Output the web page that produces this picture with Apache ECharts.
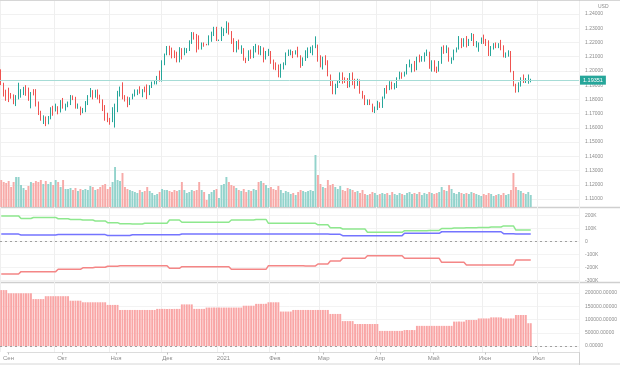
<!DOCTYPE html>
<html><head><meta charset="utf-8">
<script src="https://cdn.jsdelivr.net/npm/echarts@6/dist/echarts.min.js"></script>
<style>html,body{margin:0;padding:0;background:#fff}#c{width:620px;height:365px}</style>
</head><body><div id="c"></div>
<script>
// ---- daily EUR/USD candles (Sep 1 2020 .. Jun 28 2021) ----
const opens = [
1.1937,1.1913,1.1855,1.1850,1.1837,1.1819,1.1780,1.1800,1.1815,1.1845,1.1862,1.1845,1.1815,1.1848,1.1838,1.1770,1.1700,1.1660,1.1670,1.1632,1.1665,1.1745,
1.1720,1.1750,1.1715,1.1780,1.1735,1.1760,1.1765,1.1825,1.1815,1.1745,1.1746,1.1705,1.1717,1.1770,1.1820,1.1862,1.1815,1.1860,1.1813,1.1793,1.1746,1.1674,
1.1647,1.1642,1.1715,1.1720,1.1830,1.1875,1.1814,1.1812,1.1775,1.1808,1.1833,1.1855,1.1860,1.1850,1.1870,1.1858,1.1840,1.1895,1.1915,1.1915,1.1960,
1.1927,1.2070,1.2115,1.2145,1.2121,1.2110,1.2100,1.2080,1.2135,1.2110,1.2145,1.2150,1.2195,1.2265,1.2255,1.2240,1.2160,1.2190,1.2187,1.2185,1.2215,1.2250,1.2295,
1.2215,1.2215,1.2250,1.2295,1.2325,1.2270,1.2220,1.2150,1.2205,1.2155,1.2155,1.2080,1.2075,1.2130,1.2105,1.2165,1.2170,1.2140,1.2160,1.2110,1.2120,
1.2135,1.2060,1.2040,1.2035,1.1965,1.2045,1.2050,1.2120,1.2120,1.2135,1.2120,1.2130,1.2105,1.2040,1.2090,1.2120,1.2150,1.2150,1.2165,1.2175,
1.2075,1.2045,1.2090,1.2065,1.1965,1.1915,1.1845,1.1900,1.1925,1.1985,1.1950,1.1930,1.1900,1.1975,1.1915,1.1905,1.1935,1.1850,1.1815,1.1780,1.1795,1.1765,1.1730,
1.1730,1.1775,1.1760,1.1815,1.1875,1.1870,1.1915,1.1900,1.1910,1.1945,1.1980,1.1965,1.1985,1.2035,1.2035,1.2035,1.2015,1.2095,1.2080,1.2090,1.2125,1.2125,
1.2020,1.2065,1.2015,1.2005,1.2065,1.2165,1.2130,1.2150,1.2075,1.2080,1.2145,1.2155,1.2225,1.2175,1.2225,1.2180,1.2215,1.2250,1.2190,1.2195,1.2195,
1.2225,1.2215,1.2210,1.2125,1.2165,1.2190,1.2175,1.2180,1.2175,1.2105,1.2120,1.2125,1.1995,1.1905,1.1860,1.1915,1.1940,1.1925,1.1930,1.1935];
const highs = [
1.2011,1.1917,1.1868,1.1882,1.1845,1.1835,1.1830,1.1917,1.1872,1.1888,1.1900,1.1883,1.1852,1.1872,1.1872,1.1785,1.1720,1.1688,1.1680,1.1683,1.1745,1.1755,
1.1770,1.1752,1.1795,1.1810,1.1770,1.1785,1.1831,1.1828,1.1818,1.1771,1.1750,1.1740,1.1788,1.1830,1.1880,1.1865,1.1868,1.1870,1.1833,1.1800,1.1760,1.1706,
1.1670,1.1745,1.1770,1.1860,1.1890,1.1920,1.1830,1.1820,1.1815,1.1840,1.1870,1.1870,1.1892,1.1872,1.1890,1.1905,1.1900,1.1925,1.1930,1.1965,1.2002,
1.2075,1.2122,1.2175,1.2177,1.2164,1.2145,1.2135,1.2167,1.2160,1.2163,1.2160,1.2215,1.2273,1.2272,1.2260,1.2250,1.2200,1.2200,1.2190,1.2250,1.2276,1.2310,1.2310,
1.2220,1.2310,1.2300,1.2349,1.2340,1.2280,1.2230,1.2210,1.2220,1.2180,1.2160,1.2093,1.2145,1.2150,1.2175,1.2190,1.2180,1.2175,1.2165,1.2140,1.2155,
1.2140,1.2080,1.2060,1.2045,1.2050,1.2060,1.2130,1.2150,1.2150,1.2140,1.2145,1.2170,1.2110,1.2095,1.2145,1.2165,1.2170,1.2180,1.2243,1.2185,
1.2110,1.2100,1.2110,1.2075,1.1975,1.1930,1.1910,1.1935,1.1990,1.1990,1.1955,1.1950,1.1985,1.1990,1.1945,1.1945,1.1940,1.1860,1.1830,1.1800,1.1800,1.1770,1.1750,
1.1790,1.1780,1.1820,1.1880,1.1900,1.1928,1.1925,1.1915,1.1955,1.1995,1.1990,1.1995,1.2048,1.2080,1.2050,1.2070,1.2100,1.2115,1.2105,1.2130,1.2150,1.2135,
1.2075,1.2075,1.2030,1.2070,1.2170,1.2180,1.2180,1.2165,1.2095,1.2150,1.2165,1.2245,1.2230,1.2230,1.2245,1.2225,1.2266,1.2260,1.2210,1.2200,1.2235,
1.2255,1.2225,1.2215,1.2175,1.2195,1.2200,1.2195,1.2218,1.2180,1.2130,1.2145,1.2140,1.2000,1.1910,1.1920,1.1955,1.1975,1.1950,1.1975,1.1945];
const lows = [
1.1900,1.1820,1.1790,1.1781,1.1805,1.1766,1.1753,1.1800,1.1812,1.1830,1.1825,1.1790,1.1737,1.1828,1.1750,1.1690,1.1650,1.1627,1.1612,1.1625,1.1660,1.1685,
1.1715,1.1695,1.1708,1.1735,1.1721,1.1745,1.1760,1.1795,1.1735,1.1734,1.1689,1.1703,1.1710,1.1760,1.1815,1.1800,1.1812,1.1800,1.1773,1.1718,1.1650,1.1640,
1.1622,1.1640,1.1602,1.1710,1.1820,1.1800,1.1785,1.1745,1.1760,1.1800,1.1820,1.1830,1.1840,1.1815,1.1850,1.1802,1.1830,1.1880,1.1905,1.1905,1.1925,
1.1925,1.2040,1.2110,1.2110,1.2088,1.2090,1.2060,1.2060,1.2080,1.2110,1.2125,1.2140,1.2190,1.2220,1.2130,1.2150,1.2150,1.2170,1.2180,1.2180,1.2205,1.2245,1.2210,
1.2210,1.2210,1.2245,1.2265,1.2255,1.2190,1.2132,1.2130,1.2150,1.2120,1.2072,1.2055,1.2070,1.2085,1.2090,1.2130,1.2115,1.2110,1.2060,1.2080,1.2105,
1.2050,1.2010,1.2005,1.1955,1.1952,1.2010,1.2040,1.2105,1.2110,1.2090,1.2115,1.2095,1.2022,1.2035,1.2070,1.2090,1.2125,1.2110,1.2160,1.2065,
1.2025,1.2010,1.2040,1.1962,1.1894,1.1836,1.1835,1.1880,1.1915,1.1910,1.1915,1.1880,1.1885,1.1900,1.1875,1.1895,1.1840,1.1805,1.1760,1.1760,1.1760,1.1710,1.1704,
1.1725,1.1740,1.1740,1.1805,1.1840,1.1865,1.1870,1.1870,1.1880,1.1940,1.1945,1.1960,1.1975,1.2025,1.1990,1.1995,1.2005,1.2060,1.2065,1.2065,1.2105,1.2015,
1.1995,1.1995,1.1985,1.1995,1.2050,1.2120,1.2125,1.2065,1.2050,1.2075,1.2130,1.2150,1.2160,1.2170,1.2165,1.2175,1.2210,1.2175,1.2165,1.2135,1.2190,
1.2190,1.2175,1.2105,1.2105,1.2150,1.2160,1.2160,1.2145,1.2095,1.2092,1.2100,1.1990,1.1892,1.1847,1.1850,1.1890,1.1915,1.1915,1.1910,1.1920];
const closes = [
1.1913,1.1855,1.1850,1.1837,1.1819,1.1780,1.1800,1.1815,1.1845,1.1862,1.1845,1.1815,1.1848,1.1838,1.1770,1.1700,1.1660,1.1670,1.1632,1.1665,1.1745,1.1720,
1.1750,1.1715,1.1780,1.1735,1.1760,1.1765,1.1825,1.1815,1.1745,1.1746,1.1705,1.1717,1.1770,1.1820,1.1862,1.1815,1.1860,1.1813,1.1793,1.1746,1.1674,1.1647,
1.1642,1.1715,1.1720,1.1830,1.1875,1.1814,1.1812,1.1775,1.1808,1.1833,1.1855,1.1860,1.1850,1.1870,1.1858,1.1840,1.1895,1.1915,1.1915,1.1960,1.1927,
1.2070,1.2115,1.2145,1.2121,1.2110,1.2100,1.2080,1.2135,1.2110,1.2145,1.2150,1.2195,1.2265,1.2255,1.2240,1.2160,1.2190,1.2187,1.2185,1.2215,1.2250,1.2295,1.2215,
1.2215,1.2250,1.2295,1.2325,1.2270,1.2220,1.2150,1.2205,1.2155,1.2155,1.2080,1.2075,1.2130,1.2105,1.2165,1.2170,1.2140,1.2160,1.2110,1.2120,1.2135,
1.2060,1.2040,1.2035,1.1965,1.2045,1.2050,1.2120,1.2120,1.2135,1.2120,1.2130,1.2105,1.2040,1.2090,1.2120,1.2150,1.2150,1.2165,1.2175,1.2075,
1.2045,1.2090,1.2065,1.1965,1.1915,1.1845,1.1900,1.1925,1.1985,1.1950,1.1930,1.1900,1.1975,1.1915,1.1905,1.1935,1.1850,1.1815,1.1780,1.1795,1.1765,1.1730,1.1730,
1.1775,1.1760,1.1815,1.1875,1.1870,1.1915,1.1900,1.1910,1.1945,1.1980,1.1965,1.1985,1.2035,1.2035,1.2035,1.2015,1.2095,1.2080,1.2090,1.2125,1.2125,1.2020,
1.2065,1.2015,1.2005,1.2065,1.2165,1.2130,1.2150,1.2075,1.2080,1.2145,1.2155,1.2225,1.2175,1.2225,1.2180,1.2215,1.2250,1.2190,1.2195,1.2195,1.2225,
1.2215,1.2210,1.2125,1.2165,1.2190,1.2175,1.2180,1.2175,1.2105,1.2120,1.2125,1.1995,1.1905,1.1860,1.1915,1.1940,1.1925,1.1930,1.1935,1.19351];
// daily volume (relative units)
const volumes = [
270,250,240,260,200,250,300, 300,220,190,170,210,250, 240,260,250,270,230,260, 230,250,220,270, 250,200,270,180,
180,190,170,190,160,180, 170,180,170,210,200,170,180,200, 220,230,180,200, 250,400,270,260, 340,200,180,170,
160,150,140,170,150,160,200,160,140,120,130,150, 180,170,170,160,150,170, 160,170,250,170,140,150,170,160,170,250,
170,150,70,130,150,170,180,90, 220,230,300,250,220,210,190,170, 160,180,150,170,160,180,170,250,
260,240,220,190,200,180,170,210, 170,140,160,150,130,140,120,150, 170,160,150,160,170,160, 520,320,230,200,
190,270,220,230, 200,180,210,170,160,190,180,170, 150,160,140,170,130,120,130,150,140,120,130,140,
130,140,120,150,130,120,140,130,120,140,150,130,140,130,150,120, 140,130,150,140,130,140,150, 200,170,160,220,180,
140,130,150,140,130,140,130,150,140,130,120,110, 130,120,140,130,110,120,130,120,140,120,130, 170,340,200,170,160, 140,130,150,120];
// weekly COT-style values (thousands), one per report week
const weeklyLong  = [197,197,177,185,185,175,170,165,158,145,137,135,140,140,165,148,148,148,148,165,165,170,140,140,140,140,128,106,96,96,71,71,71,83,83,85,100,104,106,108,112,120,88,88];
const weeklyShort = [57,57,50,50,50,53,53,53,53,46,46,52,52,52,52,57,57,57,57,57,57,57,57,57,57,57,57,55,45,45,45,45,45,63,63,63,75,75,75,75,75,60,58,58];
const weeklyNet   = [-250,-250,-232,-232,-232,-214,-214,-202,-198,-190,-186,-186,-186,-186,-206,-194,-194,-194,-194,-214,-214,-214,-186,-186,-186,-188,-173,-150,-129,-129,-109,-109,-109,-129,-129,-129,-160,-160,-181,-181,-181,-181,-142,-142];
const weeklyOI    = [211000,199000,199000,177000,188000,188000,171000,165000,165000,155000,136000,136000,136000,140000,140000,157000,140000,145000,145000,145000,152000,159000,165000,130000,136000,136000,136000,121000,94000,83000,83000,57000,57000,60000,76000,76000,76000,92000,98000,104000,108000,104000,117000,86000];
// axis tick labels
const tickMonths = ['2020-09','2020-10','2020-11','2020-12','2021-01','2021-02','2021-03','2021-04','2021-05','2021-06','2021-07'];
const tickLabels = ['Сен','Окт','Ноя','Дек','2021','Фев','Мар','Апр','Май','Июн','Июл'];
const lastPrice = 1.19351;

// categories: trading weekdays
const N_CAT = 234;
const categories = [];
(function(){ const d = new Date(Date.UTC(2020,8,1));
  while (categories.length < N_CAT) { const wd = d.getUTCDay();
    if (wd !== 0 && wd !== 6) categories.push(d.toISOString().slice(0,10));
    d.setUTCDate(d.getUTCDate()+1); } })();
const isMonthStart = (idx) => idx === 0 || categories[idx].slice(0,7) !== categories[idx-1].slice(0,7);

// daily series from weekly report values (value held through the report week, Fri..Thu)
const weekOf = (i) => Math.floor((i + 2) / 5);
const daily = (arr) => closes.map((_, i) => arr[weekOf(i)]);

const candleData = opens.map((o, i) => [o, closes[i], lows[i], highs[i]]);
const UP = '#26a69a', DOWN = '#ef5350';
const volData = volumes.map((v, i) => ({ value: v, itemStyle: { color: closes[i] >= opens[i] ? '#93d3cc' : '#f7aaa8' } }));

const FONT = 'Liberation Sans, Arial, sans-serif';
const L = -0.74, R = 41;
const hiddenX = (gi) => ({ type: 'category', gridIndex: gi, data: categories, boundaryGap: true,
  axisLine: {show:false}, axisTick: {show:false}, axisLabel: {show:false}, splitLine: {show:false} });
const lblStyle = { color: '#8c8c8c', fontSize: 5, fontFamily: FONT, margin: 6 };

const chart = echarts.init(document.getElementById('c'), null, { renderer: 'canvas', width: 620, height: 365 });
chart.setOption({
  animation: false,
  backgroundColor: '#ffffff',
  grid: [
    { left: L, right: R, top: 14, height: 185 },
    { left: L, right: R, top: 107, height: 100 },
    { left: L, right: R, top: 215.5, height: 65 },
    { left: L, right: R, top: 293, height: 53 },
    { left: L, right: R, top: 351.5, height: 1 },
    { left: L, right: R, top: 1, height: 351 }
  ],
  xAxis: [
    hiddenX(0), hiddenX(1), hiddenX(2), hiddenX(3),
    { type: 'category', gridIndex: 4, data: categories, boundaryGap: true,
      axisLine: { show: true, lineStyle: { color: '#dcdcdc', width: 1 } },
      axisTick: { show: true, interval: (idx) => isMonthStart(idx), alignWithLabel: true, length: 2, lineStyle: { color: '#bdbdbd' } },
      axisLabel: { show: true, interval: (idx) => isMonthStart(idx), color: '#8c8c8c', fontSize: 6, fontFamily: FONT, margin: 3,
        alignMinLabel: 'center', alignMaxLabel: 'center', hideOverlap: false,
        formatter: (v) => { const k = tickMonths.indexOf(v.slice(0,7)); return k >= 0 ? tickLabels[k] : ''; } },
      splitLine: { show: false } },
    { type: 'category', gridIndex: 5, data: categories, boundaryGap: true,
      axisLine: {show:false}, axisTick: {show:false}, axisLabel: {show:false},
      splitLine: { show: true, interval: (idx) => isMonthStart(idx), lineStyle: { color: '#efefef', width: 1 } } }
  ],
  yAxis: [
    { type: 'value', gridIndex: 0, position: 'right', min: 1.11, max: 1.24, interval: 0.01,
      axisLine: {show:false}, axisTick: {show:false},
      axisLabel: Object.assign({ formatter: (v) => v.toFixed(5) }, lblStyle),
      splitLine: { show: true, lineStyle: { color: '#f1f1f1' } } },
    { type: 'value', gridIndex: 1, min: 0, max: 1000, show: false },
    { type: 'value', gridIndex: 2, position: 'right', min: -300, max: 200, interval: 100,
      axisLine: {show:false}, axisTick: {show:false},
      axisLabel: Object.assign({ formatter: (v) => v === 0 ? '0' : v + 'K' }, lblStyle),
      splitLine: { show: true, lineStyle: { color: '#f3f3f3' } } },
    { type: 'value', gridIndex: 3, position: 'right', min: 0, max: 200000, interval: 50000,
      axisLine: {show:false}, axisTick: {show:false},
      axisLabel: Object.assign({ formatter: (v) => v.toFixed(5) }, lblStyle),
      splitLine: { show: true, lineStyle: { color: '#f3f3f3' } } },
    { type: 'value', gridIndex: 4, show: false },
    { type: 'value', gridIndex: 5, show: false }
  ],
  series: [
    { name: 'Volume', type: 'bar', xAxisIndex: 1, yAxisIndex: 1, data: volData, barWidth: '78%', z: 1, silent: true },
    { name: 'EURUSD', type: 'candlestick', xAxisIndex: 0, yAxisIndex: 0, data: candleData, barWidth: 1.2, z: 3,
      itemStyle: { color: UP, color0: DOWN, borderColor: UP, borderColor0: DOWN, borderWidth: 1 },
      markLine: { silent: true, symbol: 'none', animation: false, precision: 6,
        lineStyle: { color: '#a6dcd6', type: 'solid', width: 1 },
        label: { show: true, position: 'end', distance: 1, formatter: lastPrice.toFixed(5),
          backgroundColor: UP, color: '#ffffff', fontSize: 5.5, fontFamily: FONT, padding: [2, 3, 1, 3] },
        data: [{ yAxis: lastPrice }] } },
    { name: 'Long', type: 'line', xAxisIndex: 2, yAxisIndex: 2, data: daily(weeklyLong), showSymbol: false,
      lineStyle: { color: '#8ee88e', width: 1.5 }, z: 3,
      markLine: { silent: true, symbol: 'none', label: { show: false },
        lineStyle: { color: '#a0a0a0', type: [2, 3], width: 1 }, data: [{ yAxis: 0 }] } },
    { name: 'Short', type: 'line', xAxisIndex: 2, yAxisIndex: 2, data: daily(weeklyShort), showSymbol: false,
      lineStyle: { color: '#7474ff', width: 1.5 }, z: 3 },
    { name: 'Net', type: 'line', xAxisIndex: 2, yAxisIndex: 2, data: daily(weeklyNet), showSymbol: false,
      lineStyle: { color: '#f48686', width: 1.5 }, z: 3 },
    { name: 'OI', type: 'bar', xAxisIndex: 3, yAxisIndex: 3, data: daily(weeklyOI), barWidth: '78%', clip: false,
      itemStyle: { color: '#f9a6a6' }, silent: true,
      markLine: { silent: true, symbol: 'none', label: { show: false },
        lineStyle: { color: '#a0a0a0', type: [2, 3], width: 1 }, data: [{ yAxis: 0 }] } }
  ],
  graphic: [
    { type: 'line', silent: true, shape: { x1: 0, y1: 0.5, x2: 620, y2: 0.5 }, style: { stroke: '#d6d6d6', lineWidth: 1 } },
    { type: 'line', silent: true, shape: { x1: 0, y1: 207.5, x2: 620, y2: 207.5 }, style: { stroke: '#cfcfcf', lineWidth: 1.5 } },
    { type: 'line', silent: true, shape: { x1: 0, y1: 282.5, x2: 620, y2: 282.5 }, style: { stroke: '#cfcfcf', lineWidth: 1.5 } },
    { type: 'line', silent: true, shape: { x1: 0, y1: 364, x2: 620, y2: 364 }, style: { stroke: '#d6d6d6', lineWidth: 1 } },
    { type: 'line', silent: true, shape: { x1: 579.5, y1: 0, x2: 579.5, y2: 365 }, style: { stroke: '#cfcfcf', lineWidth: 1 } },
    { type: 'text', silent: true, left: 598, top: 4, style: { text: 'USD', fill: '#8c8c8c', fontSize: 5, fontFamily: FONT } }
  ]
});
</script>
</body></html>
